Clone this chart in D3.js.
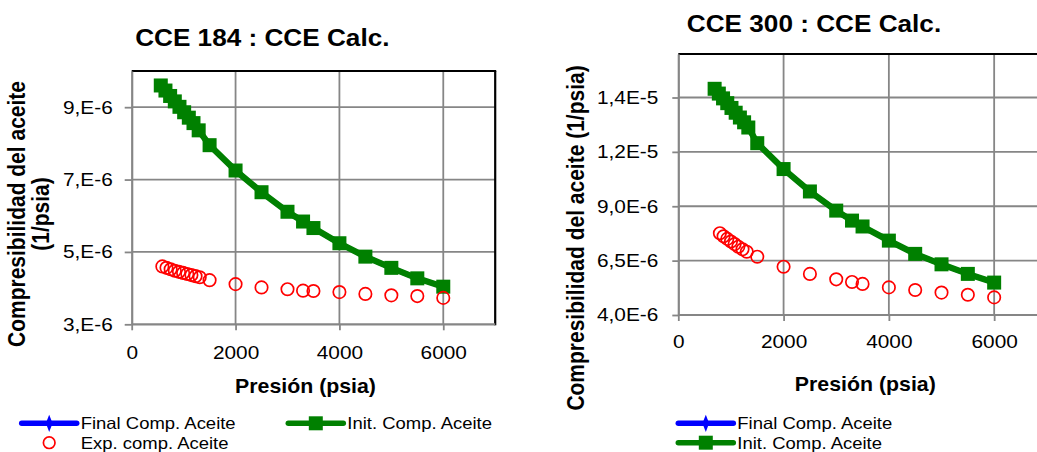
<!DOCTYPE html>
<html>
<head>
<meta charset="utf-8">
<script src="https://cdn.jsdelivr.net/npm/d3@7"></script>
<style>
  html, body { margin: 0; padding: 0; background: #fff; }
  svg { display: block; font-family: "Liberation Sans", Arial, sans-serif; }
</style>
</head>
<body>
<svg id="chart" width="1037" height="452"></svg>
<script>
// ---------- DATA ----------
// CCE 184
const p184Calc = [560, 650, 740, 830, 920, 1010, 1100, 1190, 1290, 1500, 2000, 2500, 3000, 3300, 3500, 4000, 4500, 5000, 5500, 6000];
const c184Calc = [9.60e-6, 9.46e-6, 9.31e-6, 9.16e-6, 9.01e-6, 8.86e-6, 8.71e-6, 8.56e-6, 8.36e-6, 7.95e-6, 7.25e-6, 6.65e-6, 6.11e-6, 5.84e-6, 5.66e-6, 5.24e-6, 4.87e-6, 4.56e-6, 4.27e-6, 4.04e-6];
const p184Exp = [590, 670, 750, 830, 910, 990, 1070, 1150, 1230, 1310, 1500, 2000, 2500, 3000, 3300, 3500, 4000, 4500, 5000, 5500, 6000];
const c184Exp = [4.60e-6, 4.56e-6, 4.52e-6, 4.48e-6, 4.45e-6, 4.42e-6, 4.39e-6, 4.36e-6, 4.33e-6, 4.30e-6, 4.22e-6, 4.11e-6, 4.02e-6, 3.97e-6, 3.93e-6, 3.92e-6, 3.89e-6, 3.84e-6, 3.80e-6, 3.78e-6, 3.73e-6];
// CCE 300
const p300Calc = [690, 770, 850, 930, 1010, 1090, 1170, 1250, 1330, 1500, 2000, 2500, 3000, 3300, 3500, 4000, 4500, 5000, 5500, 6000];
const c300Calc = [14.40e-6, 14.18e-6, 13.96e-6, 13.74e-6, 13.52e-6, 13.30e-6, 13.08e-6, 12.86e-6, 12.62e-6, 11.90e-6, 10.71e-6, 9.68e-6, 8.80e-6, 8.34e-6, 8.07e-6, 7.42e-6, 6.81e-6, 6.33e-6, 5.89e-6, 5.49e-6];
const p300Exp = [790, 860, 930, 1000, 1070, 1140, 1220, 1300, 1500, 2000, 2500, 3000, 3300, 3500, 4000, 4500, 5000, 5500, 6000];
const c300Exp = [7.76e-6, 7.62e-6, 7.50e-6, 7.38e-6, 7.26e-6, 7.14e-6, 7.02e-6, 6.91e-6, 6.68e-6, 6.22e-6, 5.89e-6, 5.64e-6, 5.52e-6, 5.43e-6, 5.27e-6, 5.15e-6, 5.03e-6, 4.93e-6, 4.81e-6];

// Axes / ticks
const xTicks = [0, 2000, 4000, 6000];
const xDomain = [0, 7000];
const y184Ticks = [3e-6, 5e-6, 7e-6, 9e-6];
const y184Labels = ["3,E-6", "5,E-6", "7,E-6", "9,E-6"];
const y184Domain = [3e-6, 1e-5];
const y300Ticks = [4e-6, 6.5e-6, 9e-6, 11.5e-6, 14e-6];
const y300Labels = ["4,0E-6", "6,5E-6", "9,0E-6", "1,2E-5", "1,4E-5"];
const y300Domain = [4e-6, 1.6e-5];

const titles = ["CCE 184 : CCE Calc.", "CCE 300 : CCE Calc."];
const xTitle = "Presión (psia)";
const yTitle184 = ["Compresibilidad del aceite", "(1/psia)"];
const yTitle300 = "Compresibilidad del aceite (1/psia)";
const legendNames = ["Final Comp. Aceite", "Init. Comp. Aceite", "Exp. comp. Aceite"];

// ---------- STYLE ----------
const GREEN = "#008000", RED = "#ff0000", BLUE = "#0000ff", GRID = "#868686";
const SX = 1.12; // horizontal text stretch seen in the reference

const svg = d3.select("#chart");
svg.append("rect").attr("width", 1037).attr("height", 452).attr("fill", "#fff");

function stretchText(g, x, y, str, size, weight, anchor, sx) {
  return g.append("text")
    .attr("transform", `translate(${x},${y}) scale(${sx},1)`)
    .attr("text-anchor", anchor)
    .style("font-size", size + "px")
    .style("font-weight", weight)
    .attr("fill", "#000")
    .text(str);
}

function drawChart(cfg) {
  const g = svg.append("g");
  const x = d3.scaleLinear().domain(xDomain).range([cfg.left, cfg.right]);
  const y = d3.scaleLinear().domain(cfg.yDomain).range([cfg.bottom, cfg.top]);

  // grid
  g.append("g").selectAll("line.v").data(xTicks.slice(1)).join("line")
    .attr("x1", d => x(d)).attr("x2", d => x(d))
    .attr("y1", cfg.top).attr("y2", cfg.bottom)
    .attr("stroke", GRID).attr("stroke-width", 1.8);
  g.append("g").selectAll("line.h").data(cfg.yTicks.slice(1)).join("line")
    .attr("x1", cfg.left).attr("x2", cfg.right)
    .attr("y1", d => y(d)).attr("y2", d => y(d))
    .attr("stroke", GRID).attr("stroke-width", 1.8);

  // plot border (top, right) black
  g.append("line").attr("x1", cfg.left).attr("x2", cfg.right + 1)
    .attr("y1", cfg.top).attr("y2", cfg.top).attr("stroke", "#000").attr("stroke-width", 2.2);
  g.append("line").attr("x1", cfg.right).attr("x2", cfg.right)
    .attr("y1", cfg.top).attr("y2", cfg.bottom + 1).attr("stroke", "#000").attr("stroke-width", 2.2);

  // axes
  const ay = g.append("g").attr("transform", `translate(${cfg.left},0)`)
    .call(d3.axisLeft(y).tickValues(cfg.yTicks).tickFormat((d, i) => cfg.yLabels[i])
      .tickSize(cfg.yTickSize).tickSizeOuter(0).tickPadding(cfg.yPad));
  const ax = g.append("g").attr("transform", `translate(0,${cfg.bottom})`)
    .call(d3.axisBottom(x).tickValues(xTicks).tickFormat(d3.format("d"))
      .tickSize(cfg.xTickSize).tickSizeOuter(0).tickPadding(cfg.xPad));
  [ax, ay].forEach(a => {
    a.select(".domain").attr("stroke", GRID).attr("stroke-width", 2.2);
    a.selectAll(".tick line").attr("stroke", GRID).attr("stroke-width", 1.8);
    a.selectAll("text").style("font-size", "18.6px").attr("fill", "#000")
      .style("font-family", "'Liberation Sans', Arial, sans-serif");
  });
  ay.selectAll("text").attr("x", -(cfg.yTickSize + cfg.yPad) / SX).attr("transform", `scale(${SX},1)`);
  ax.selectAll("text").attr("transform", `scale(${SX},1)`);
  ax.select(".domain").attr("d", `M${cfg.left},0H${cfg.right}`);

  // series
  const line = d3.line().x(d => x(d[0])).y(d => y(d[1]));
  const calc = cfg.pCalc.map((p, i) => [p, cfg.cCalc[i]]);
  const exp = cfg.pExp.map((p, i) => [p, cfg.cExp[i]]);

  g.append("path").datum(calc).attr("d", line).attr("fill", "none")
    .attr("stroke", BLUE).attr("stroke-width", 5).attr("stroke-linejoin", "round");
  g.append("path").datum(calc).attr("d", line).attr("fill", "none")
    .attr("stroke", GREEN).attr("stroke-width", 6.3).attr("stroke-linejoin", "round");
  const sq = 14;
  g.append("g").selectAll("rect").data(calc).join("rect")
    .attr("x", d => x(d[0]) - sq / 2).attr("y", d => y(d[1]) - sq / 2)
    .attr("width", sq).attr("height", sq).attr("fill", GREEN);
  g.append("g").selectAll("circle").data(exp).join("circle")
    .attr("cx", d => x(d[0])).attr("cy", d => y(d[1])).attr("r", 6.2)
    .attr("fill", "none").attr("stroke", RED).attr("stroke-width", 1.7);

  // titles
  stretchText(g, cfg.titleX, cfg.titleY, cfg.title, 24, "bold", "middle", 1.09);
  stretchText(g, cfg.xTitleX, cfg.xTitleY, xTitle, 20.5, "bold", "middle", 1.04);
  cfg.yTitleLines.forEach((t, i) => {
    g.append("text")
      .attr("transform", `translate(${cfg.yTitleX[i]},${cfg.yTitleY}) rotate(-90) scale(1,1.1)`)
      .attr("text-anchor", "middle")
      .style("font-size", "21px").style("font-weight", "bold").text(t);
  });

  // legend
  cfg.legend.forEach(item => {
    const lg = g.append("g");
    if (item.type !== "exp") {
      lg.append("line").attr("x1", item.x).attr("x2", item.x + 55)
        .attr("y1", item.y).attr("y2", item.y)
        .attr("stroke", item.type === "final" ? BLUE : GREEN).attr("stroke-width", 5.5)
        .attr("stroke-linecap", "round");
      if (item.type === "final") {
        lg.append("path").attr("d", d3.symbol(d3.symbolDiamond, 60)())
          .attr("transform", `translate(${item.x + 27.5},${item.y}) scale(0.8,1.2)`).attr("fill", BLUE);
      } else {
        lg.append("rect").attr("x", item.x + 27.5 - 7).attr("y", item.y - 7)
          .attr("width", 14).attr("height", 14).attr("fill", GREEN);
      }
    } else {
      lg.append("circle").attr("cx", item.x + 27.5).attr("cy", item.y).attr("r", 5.8)
        .attr("fill", "none").attr("stroke", RED).attr("stroke-width", 1.7);
    }
    stretchText(lg, item.x + 59, item.y + 6, item.label, 16.5, "normal", "start", SX);
  });
}

drawChart({
  left: 131.7, right: 495.2, top: 71, bottom: 324.3,
  yDomain: y184Domain, yTicks: y184Ticks, yLabels: y184Labels,
  yTickSize: 7, yPad: 12, xTickSize: 6, xPad: 15,
  pCalc: p184Calc, cCalc: c184Calc, pExp: p184Exp, cExp: c184Exp,
  title: titles[0], titleX: 262.3, titleY: 45.5,
  xTitleX: 305.5, xTitleY: 393,
  yTitleLines: yTitle184, yTitleX: [25, 49], yTitleY: 214,
  legend: [
    { type: "final", x: 21.7, y: 423.3, label: legendNames[0] },
    { type: "init", x: 288.3, y: 423.3, label: legendNames[1] },
    { type: "exp", x: 21.7, y: 442.7, label: legendNames[2] }
  ]
});

drawChart({
  left: 678.3, right: 1046.8, top: 54, bottom: 315,
  yDomain: y300Domain, yTicks: y300Ticks, yLabels: y300Labels,
  yTickSize: 6, yPad: 14, xTickSize: 6, xPad: 14,
  pCalc: p300Calc, cCalc: c300Calc, pExp: p300Exp, cExp: c300Exp,
  title: titles[1], titleX: 814, titleY: 32.3,
  xTitleX: 865.3, xTitleY: 391,
  yTitleLines: [yTitle300], yTitleX: [584], yTitleY: 238,
  legend: [
    { type: "final", x: 678.3, y: 423.3, label: legendNames[0] },
    { type: "init", x: 678.3, y: 442.7, label: legendNames[1] }
  ]
});
</script>
</body>
</html>
